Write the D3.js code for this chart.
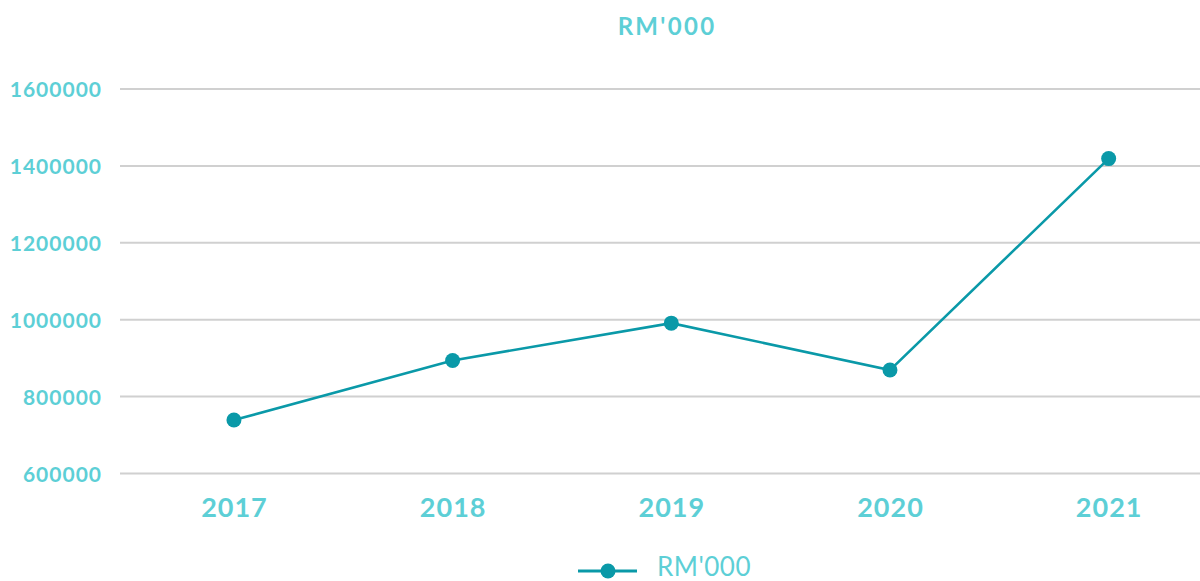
<!DOCTYPE html>
<html><head><meta charset="utf-8">
<script src="https://cdn.jsdelivr.net/npm/d3@7"></script>
<style>html,body{margin:0;padding:0;background:#fff;overflow:hidden}</style>
</head><body>
<svg id="c" width="1200" height="581"></svg>
<script>
const years = ["2017","2018","2019","2020","2021"];
const values = [739000, 894000, 991000, 869000, 1419000];
const yTicks = [600000, 800000, 1000000, 1200000, 1400000, 1600000];
const seriesName = "RM'000";
const titleText = "RM'000";

const svg = d3.select("#c");
const textColor = "#5dcfd6", lineColor = "#0a99a8", gridColor = "#d0d0d0";
const font = "Lato, 'Noto Sans', sans-serif";

const x = d3.scaleBand().domain(years).range([124.6, 1218]);
const y = d3.scaleLinear().domain([600000, 1600000]).range([473.5, 89]);

// gridlines + y labels
const yAxis = d3.axisLeft(y).tickValues(yTicks).tickSize(0).tickPadding(0).tickFormat(d3.format("d"));
const gy = svg.append("g").attr("transform", "translate(102,0)").call(yAxis);
gy.select(".domain").remove();
gy.selectAll("text").attr("fill", textColor).attr("font-family", font).attr("font-weight", "bold")
  .attr("font-size", 21).attr("letter-spacing", "1px").attr("dy", "0.36em");

svg.append("g").selectAll("line").data(yTicks).join("line")
  .attr("x1", 120).attr("x2", 1200)
  .attr("y1", d => y(d)).attr("y2", d => y(d))
  .attr("stroke", gridColor).attr("stroke-width", 2);

// x labels
const xAxis = d3.axisBottom(x).tickSize(0).tickPadding(0);
const gx = svg.append("g").attr("transform", "translate(0.5,517)").call(xAxis);
gx.select(".domain").remove();
gx.selectAll("text").attr("fill", textColor).attr("font-family", font).attr("font-weight", "bold")
  .attr("font-size", 27).attr("letter-spacing", "1px").attr("dy", 0);

// line
const cx = d => x(d) + x.bandwidth() / 2;
const line = d3.line().x((d, i) => cx(years[i])).y(d => y(d));
svg.append("path").datum(values).attr("d", line).attr("fill", "none").attr("stroke", lineColor).attr("stroke-width", 2.6);
svg.append("g").selectAll("circle").data(values).join("circle")
  .attr("cx", (d, i) => cx(years[i])).attr("cy", d => y(d)).attr("r", 7.5).attr("fill", lineColor);

// title
svg.append("text").attr("x", 667).attr("y", 35).attr("text-anchor", "middle")
  .attr("fill", textColor).attr("font-family", font).attr("font-weight", "bold")
  .attr("font-size", 24).attr("letter-spacing", "2.3px").text(titleText);

// legend
const lg = svg.append("g");
lg.append("line").attr("x1", 578).attr("x2", 637).attr("y1", 571).attr("y2", 571).attr("stroke", lineColor).attr("stroke-width", 3);
lg.append("circle").attr("cx", 608).attr("cy", 571).attr("r", 7.5).attr("fill", lineColor);
lg.append("text").attr("x", 657).attr("y", 576).attr("fill", textColor).attr("font-family", font)
  .attr("font-size", 26).attr("letter-spacing", "0.5px").text(seriesName);
</script>
</body></html>
